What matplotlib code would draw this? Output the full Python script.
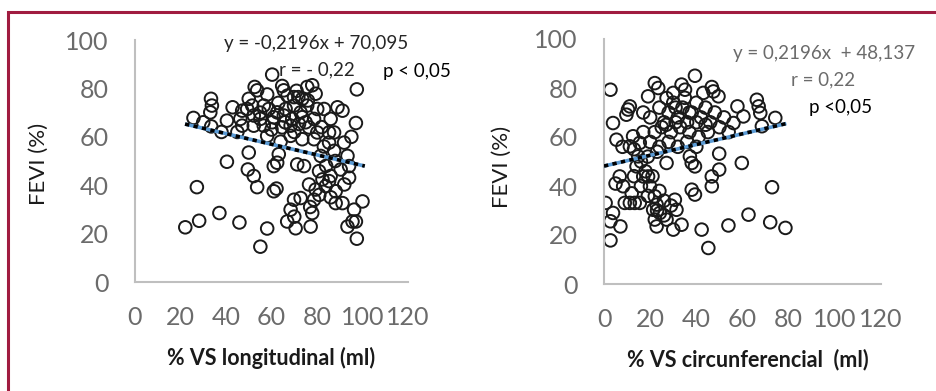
import matplotlib
matplotlib.use("Agg")
import matplotlib.pyplot as plt
from matplotlib.patches import Rectangle

plt.rcParams['font.family'] = ['Lato', 'DejaVu Sans']

# left panel: % VS longitudinal vs FEVI
long_x = [22.1, 27.2, 28.2, 25.7, 33.4, 33.8, 33.1, 33.5, 37.1, 40.4, 40.4, 42.9, 45.9, 46.3,
          50.0, 49.6, 52.2, 53.7, 52.6, 53.7, 50.0, 49.3, 55.1, 58.1, 60.3, 61.0, 62.2, 63.2,
          62.5, 61.0, 64.7, 65.4, 66.9, 68.4, 69.9, 70.6, 71.3, 71.8, 74.3, 77.2, 77.9, 78.7,
          79.4, 77.9, 75.7, 79.4, 81.6, 80.9, 82.4, 83.8, 86.0, 88.2, 91.2, 88.2, 87.5, 89.0,
          91.2, 91.9, 93.4, 97.5, 97.1, 95.1, 96.3, 97.1, 97.5, 100.0, 94.1, 93.4,
          58.1, 69.9, 73.5, 47.1, 51.5, 56.6, 58.8, 62.5, 66.2, 69.9, 72.8, 75.7, 80.1, 83.1,
          52.2, 55.1, 61.0, 65.4, 69.1, 73.5, 78.7, 86.0, 47.1, 52.2, 56.6, 60.3, 64.7, 68.4,
          72.1, 76.5, 80.1, 85.3, 58.1, 68.4, 73.5, 78.7, 85.3, 87.5, 90.4, 85.3, 76.5, 72.8,
          92.0, 94.1, 95.6, 55.0, 63.0, 67.0, 71.0, 76.0, 60.0, 66.0, 70.0, 75.0, 82.0, 64.0,
          83.0, 88.0, 84.0, 81.0, 86.0, 77.0, 70.0, 45.0, 38.0, 30.0]
long_y = [22.6, 39.2, 25.3, 67.8, 75.7, 72.9, 70.1, 64.3, 28.5, 49.7, 66.7, 72.2, 24.6, 67.4,
          53.5, 46.5, 43.8, 39.2, 80.6, 79.2, 75.7, 71.5, 14.6, 22.1, 85.7, 37.5, 38.6, 52.8,
          49.3, 47.9, 81.0, 79.2, 25.0, 29.9, 34.0, 22.2, 48.6, 76.4, 47.9, 22.9, 28.5, 34.0,
          38.2, 81.3, 80.6, 77.8, 52.1, 45.8, 42.4, 39.6, 43.8, 32.6, 32.6, 37.5, 61.8, 72.2,
          70.8, 57.6, 22.9, 79.6, 65.7, 60.0, 29.9, 25.0, 17.9, 33.3, 47.9, 52.1,
          77.5, 76.4, 75.7, 70.8, 72.9, 72.9, 71.5, 70.1, 71.5, 72.9, 70.1, 72.9, 71.5, 71.5,
          68.8, 67.4, 68.1, 68.8, 67.4, 68.1, 67.4, 67.4, 64.6, 64.6, 64.6, 66.0, 63.9, 64.6,
          65.3, 63.9, 61.8, 61.8, 60.4, 60.4, 59.0, 59.0, 57.6, 54.2, 46.5, 41.7, 40.3, 34.7,
          40.3, 43.1, 25.0, 70.0, 74.0, 77.0, 79.0, 75.0, 63.0, 66.0, 62.0, 66.0, 64.0, 58.0,
          56.0, 50.0, 48.0, 36.0, 35.0, 31.0, 27.0, 62.0, 62.0, 66.0]

# right panel: % VS circunferencial vs FEVI
circ_x = [2.8, 3.9, 5.4, 0.7, 3.9, 2.8, 7.1, 2.8, 6.8, 8.3, 9.0, 11.2, 13.3, 15.5, 10.4, 11.2,
          9.7, 12.6, 11.2, 15.5, 14.8, 14.1, 17.0, 19.1, 19.9, 22.0, 22.8, 21.3, 22.0, 22.8,
          24.2, 27.1, 30.0, 30.7, 31.4, 33.6, 22.0, 23.5, 19.1, 27.1, 27.1, 33.6, 35.1, 39.4,
          37.2, 38.0, 39.4, 38.0, 39.4, 42.3, 45.2, 46.7, 46.7, 49.9, 49.9, 46.7, 47.4, 49.6,
          53.9, 57.8, 59.7, 60.4, 62.6, 66.2, 67.0, 67.7, 68.4, 72.0, 72.8, 74.2, 78.6, 56.1,
          17.0, 20.0, 24.0, 26.0, 28.0, 30.0, 32.0, 34.0, 36.0, 38.0, 40.0, 42.0, 44.0, 46.0,
          48.0, 50.0, 52.0, 54.0, 22.0, 25.0, 29.0, 33.0, 37.0, 41.0, 45.0, 20.0, 24.0, 28.0,
          32.0, 36.0, 17.0, 13.0, 16.0, 19.0, 23.0, 18.0, 21.0, 16.0, 19.0, 24.0, 26.0, 29.0,
          23.0, 26.0, 31.0, 35.0, 43.0, 40.0, 30.0, 27.0, 44.0, 8.0, 5.0, 13.0, 12.0, 37.0,
          31.0, 40.0]
circ_y = [79.3, 65.7, 58.9, 33.1, 29.0, 25.6, 23.5, 17.8, 43.9, 39.9, 33.1, 33.1, 33.1, 33.1,
          71.2, 72.5, 69.1, 60.3, 56.2, 57.6, 52.1, 48.0, 43.9, 43.9, 39.9, 35.8, 32.4, 30.3,
          26.3, 23.5, 29.0, 26.3, 22.2, 34.4, 30.3, 24.2, 82.0, 80.0, 76.6, 75.9, 49.4, 81.4,
          79.3, 85.0, 52.1, 49.4, 48.0, 38.5, 36.5, 22.2, 14.7, 39.9, 43.9, 46.7, 53.2, 80.4,
          78.6, 76.6, 23.9, 72.5, 49.4, 68.4, 28.3, 75.2, 72.5, 69.8, 64.4, 25.2, 39.5, 67.8,
          22.9, 65.7,
          70.0, 68.0, 72.0, 66.0, 70.0, 74.0, 68.0, 72.0, 66.0, 70.0, 74.0, 68.0, 72.0, 66.0,
          70.0, 64.0, 68.0, 62.0, 62.0, 64.0, 62.0, 64.0, 62.0, 60.0, 62.0, 58.0, 56.0, 58.0,
          56.0, 58.0, 62.0, 55.0, 50.0, 52.0, 54.0, 46.0, 44.0, 40.0, 36.0, 38.0, 34.0, 32.0,
          30.0, 28.0, 66.0, 76.0, 78.0, 66.0, 78.0, 65.0, 65.0, 56.0, 41.0, 44.0, 37.0, 70.0,
          72.0, 56.0]

# trend lines (from the equations printed on the chart)
long_fit = [-0.2196, 70.095]
circ_fit = [0.2196, 48.137]
long_range = [22, 101]
circ_range = [0, 79]

W, H = 936, 391
fig = plt.figure(figsize=(W / 100, H / 100), dpi=100)

grey_txt = '#6b6b6b'
axis_col = '#bfbfbf'


def px(x, y):
    return x / W, 1 - y / H


def panel(rect, xs, ys, fit, xr):
    ax = fig.add_axes(rect)
    ax.scatter(xs, ys, s=82, facecolors='none', edgecolors='#1a1a1a', linewidths=1.4, zorder=2)
    lx = xr
    ly = [fit[0] * v + fit[1] for v in xr]
    ax.plot(lx, ly, color='#5b9bd5', lw=2.6, zorder=3, solid_capstyle='butt')
    ax.plot(lx, ly, color='black', lw=2.6, zorder=4, dashes=(1.2, 1.2))
    ax.set_xlim(0, 120)
    ax.set_ylim(0, 100)
    ax.set_xticks(range(0, 121, 20))
    ax.set_yticks(range(0, 101, 20))
    for s in ['top', 'right']:
        ax.spines[s].set_visible(False)
    for s in ['left', 'bottom']:
        ax.spines[s].set_color(axis_col)
        ax.spines[s].set_linewidth(1.5)
    ax.tick_params(length=0, labelsize=18, labelcolor=grey_txt)
    ax.tick_params(axis='y', pad=19)
    ax.tick_params(axis='x', pad=17)
    ax.patch.set_alpha(0)
    return ax


l0, b0 = px(135, 282)
l1, b1 = px(408, 40)
panel([l0, b0, l1 - l0, b1 - b0], long_x, long_y, long_fit, long_range)
r0, c0 = px(604, 284)
r1, c1 = px(881, 39)
panel([r0, c0, r1 - r0, c1 - c0], circ_x, circ_y, circ_fit, circ_range)

# axis titles
fig.text(*px(39, 164), 'FEVI (%)', rotation=90, ha='center', va='center', fontsize=16, color='#1a1a1a')
fig.text(*px(502, 167), 'FEVI (%)', rotation=90, ha='center', va='center', fontsize=16, color='#1a1a1a')
fig.text(*px(271, 358), '% VS longitudinal (ml)', ha='center', va='center', fontsize=15.5,
         fontweight='bold', color='#1a1a1a')
fig.text(*px(748, 360), '% VS circunferencial  (ml)', ha='center', va='center', fontsize=15.5,
         fontweight='bold', color='#1a1a1a')

# regression annotations
fig.text(*px(224, 43), 'y = -0,2196x + 70,095', ha='left', va='center', fontsize=13.5, color='#262626')
fig.text(*px(279, 70), 'r = - 0,22', ha='left', va='center', fontsize=13.5, color='#262626')
fig.text(*px(383, 71), 'p < 0,05', ha='left', va='center', fontsize=13.5, color='black')
fig.text(*px(733, 53), 'y = 0,2196x  + 48,137', ha='left', va='center', fontsize=13.5, color=grey_txt)
fig.text(*px(791, 80), 'r = 0,22', ha='left', va='center', fontsize=13.5, color=grey_txt)
fig.text(*px(809, 108), 'p <0,05', ha='left', va='center', fontsize=13.5, color='black')

# dark red frame (cut off at the right and bottom)
bx, by = px(8, 12)
fig.patches.append(Rectangle((bx, -0.2), 1.2, by + 0.2, transform=fig.transFigure,
                             fill=False, edgecolor='#a01c40', linewidth=2.2, zorder=10))

fig.savefig('out.png', dpi=100)
